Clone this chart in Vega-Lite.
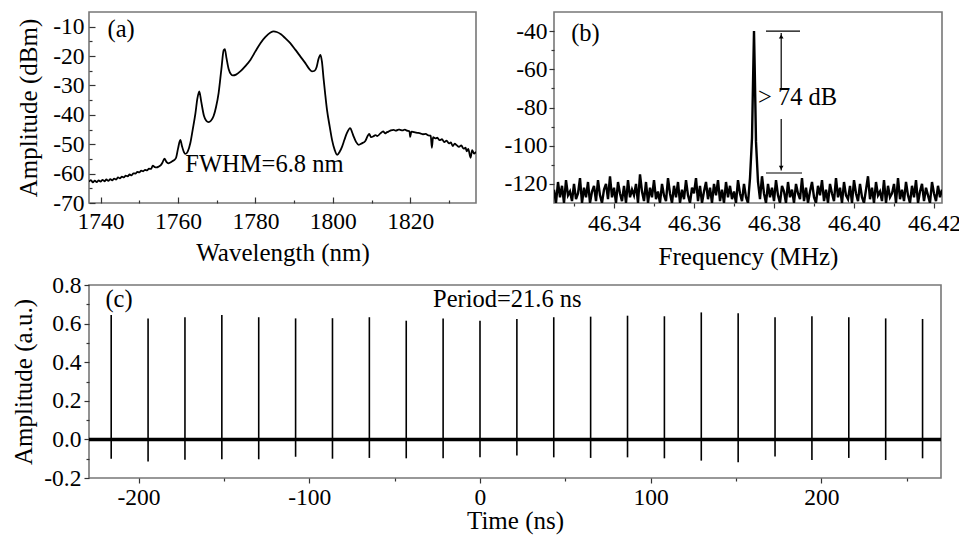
{
"$schema": "https://vega.github.io/schema/vega-lite/v6.json",
"padding": {"left": 10, "top": 11, "right": 5, "bottom": 5},
"spacing": 1,
"vconcat": [
{"hconcat": [
 {"width": 387, "height": 191,
  "resolve": {"axis": {"x": "independent", "y": "independent"}},
  "layer": [
   {"data": {"values": [
{"w":1737.0,"p":-62.8},{"w":1737.5,"p":-62.2},{"w":1738.0,"p":-63.0},{"w":1738.5,"p":-62.4},{"w":1739.0,"p":-62.9},{"w":1739.5,"p":-62.3},{"w":1740.0,"p":-62.7},{"w":1740.5,"p":-62.1},{"w":1741.0,"p":-62.6},{"w":1741.5,"p":-62.0},{"w":1742.0,"p":-62.5},{"w":1742.5,"p":-61.9},{"w":1743.0,"p":-62.3},{"w":1743.5,"p":-61.7},{"w":1744.0,"p":-62.0},{"w":1744.5,"p":-61.3},{"w":1745.0,"p":-61.6},{"w":1745.5,"p":-61.0},{"w":1746.0,"p":-61.3},{"w":1746.5,"p":-60.7},{"w":1747.0,"p":-60.9},{"w":1747.5,"p":-60.3},{"w":1748.0,"p":-60.6},{"w":1748.5,"p":-59.9},{"w":1749.0,"p":-60.0},{"w":1749.5,"p":-59.4},{"w":1750.0,"p":-59.6},{"w":1750.5,"p":-59.0},{"w":1751.0,"p":-59.2},{"w":1751.5,"p":-58.7},{"w":1752.0,"p":-58.9},{"w":1752.5,"p":-58.3},{"w":1753.0,"p":-58.4},{"w":1753.5,"p":-57.3},{"w":1754.0,"p":-57.8},{"w":1754.5,"p":-57.9},{"w":1755.0,"p":-57.6},{"w":1755.5,"p":-57.2},{"w":1756.0,"p":-56.2},{"w":1756.5,"p":-54.9},{"w":1757.0,"p":-56.0},{"w":1757.5,"p":-56.5},{"w":1758.0,"p":-56.2},{"w":1758.5,"p":-55.8},{"w":1759.0,"p":-55.4},{"w":1759.5,"p":-54.6},{"w":1760.0,"p":-51.5},{"w":1760.6,"p":-48.5},{"w":1761.0,"p":-50.5},{"w":1761.5,"p":-52.6},{"w":1761.9,"p":-53.3},{"w":1762.5,"p":-52.5},{"w":1763.2,"p":-49.5},{"w":1763.8,"p":-45.0},{"w":1764.5,"p":-39.5},{"w":1765.0,"p":-34.5},{"w":1765.5,"p":-32.0},{"w":1766.0,"p":-35.5},{"w":1766.7,"p":-40.3},{"w":1767.3,"p":-42.0},{"w":1767.9,"p":-42.5},{"w":1768.5,"p":-42.0},{"w":1769.2,"p":-40.4},{"w":1769.8,"p":-37.5},{"w":1770.5,"p":-32.5},{"w":1771.2,"p":-24.5},{"w":1771.8,"p":-18.0},{"w":1772.1,"p":-17.6},{"w":1772.5,"p":-20.5},{"w":1773.1,"p":-24.5},{"w":1773.7,"p":-26.2},{"w":1774.2,"p":-26.6},{"w":1775.0,"p":-26.3},{"w":1776.1,"p":-25.2},{"w":1777.4,"p":-23.4},{"w":1778.7,"p":-21.3},{"w":1780.0,"p":-18.4},{"w":1781.3,"p":-15.6},{"w":1782.6,"p":-13.5},{"w":1783.9,"p":-12.0},{"w":1784.7,"p":-11.6},{"w":1785.5,"p":-11.8},{"w":1786.6,"p":-12.6},{"w":1787.7,"p":-13.9},{"w":1789.0,"p":-15.6},{"w":1790.3,"p":-17.8},{"w":1791.6,"p":-20.1},{"w":1792.9,"p":-22.4},{"w":1793.8,"p":-24.2},{"w":1794.6,"p":-25.2},{"w":1795.3,"p":-25.0},{"w":1795.8,"p":-23.8},{"w":1796.3,"p":-21.0},{"w":1796.8,"p":-19.6},{"w":1797.2,"p":-22.0},{"w":1797.6,"p":-27.5},{"w":1798.0,"p":-32.5},{"w":1798.5,"p":-38.3},{"w":1799.2,"p":-44.0},{"w":1799.8,"p":-48.5},{"w":1800.5,"p":-52.0},{"w":1801.1,"p":-53.6},{"w":1801.8,"p":-52.5},{"w":1802.4,"p":-50.8},{"w":1803.0,"p":-48.5},{"w":1803.6,"p":-46.3},{"w":1804.5,"p":-44.5},{"w":1805.0,"p":-46.0},{"w":1805.4,"p":-47.4},{"w":1806.0,"p":-49.2},{"w":1806.7,"p":-50.2},{"w":1807.5,"p":-49.7},{"w":1808.4,"p":-48.9},{"w":1809.0,"p":-47.2},{"w":1809.4,"p":-46.5},{"w":1809.9,"p":-47.6},{"w":1810.5,"p":-47.3},{"w":1811.0,"p":-46.9},{"w":1811.5,"p":-47.2},{"w":1812.3,"p":-46.3},{"w":1813.0,"p":-45.6},{"w":1813.5,"p":-46.3},{"w":1814.0,"p":-45.9},{"w":1814.4,"p":-45.7},{"w":1815.0,"p":-45.3},{"w":1815.7,"p":-45.1},{"w":1816.3,"p":-45.4},{"w":1817.0,"p":-45.0},{"w":1817.4,"p":-45.1},{"w":1818.0,"p":-45.3},{"w":1818.6,"p":-45.0},{"w":1819.2,"p":-45.4},{"w":1819.8,"p":-45.6},{"w":1820.0,"p":-47.5},{"w":1820.3,"p":-45.7},{"w":1821.0,"p":-45.9},{"w":1821.8,"p":-46.1},{"w":1822.6,"p":-46.3},{"w":1823.3,"p":-46.6},{"w":1824.0,"p":-46.5},{"w":1824.7,"p":-47.0},{"w":1825.3,"p":-47.1},{"w":1825.6,"p":-51.2},{"w":1825.9,"p":-47.6},{"w":1826.5,"p":-48.0},{"w":1827.0,"p":-47.8},{"w":1827.6,"p":-48.6},{"w":1828.2,"p":-48.3},{"w":1828.8,"p":-49.3},{"w":1829.4,"p":-48.8},{"w":1830.0,"p":-49.7},{"w":1830.5,"p":-49.4},{"w":1831.0,"p":-50.6},{"w":1831.5,"p":-49.8},{"w":1832.0,"p":-50.3},{"w":1832.6,"p":-50.9},{"w":1833.2,"p":-50.4},{"w":1833.8,"p":-51.5},{"w":1834.3,"p":-51.2},{"w":1834.6,"p":-52.4},{"w":1835.0,"p":-51.6},{"w":1835.6,"p":-54.6},{"w":1836.0,"p":-52.0},{"w":1836.5,"p":-53.2},{"w":1837.0,"p":-52.6}
   ]},
    "mark": {"type": "line", "color": "black", "strokeWidth": 1.8, "interpolate": "monotone", "clip": true},
    "encoding": {
     "x": {"field": "w", "type": "quantitative", "scale": {"domain": [1737, 1837], "nice": false, "zero": false},
       "axis": {"title": "Wavelength (nm)", "orient": "bottom", "values": [1740,1760,1780,1800,1820], "format": "d",
         "tickSize": -6, "labelPadding": 12, "titlePadding": 8}},
     "y": {"field": "p", "type": "quantitative", "scale": {"domain": [-70, -5], "nice": false, "zero": false},
       "axis": {"title": "Amplitude (dBm)", "orient": "left", "values": [-70,-60,-50,-40,-30,-20,-10],
         "labelExpr": "'' + datum.value",
         "tickSize": -6, "labelPadding": 11, "titlePadding": 11}}
    }},
   {"data": {"values": [{"x": 1741.8, "y": -11, "label": "(a)"}, {"x": 1761.9, "y": -57.2, "label": "FWHM=6.8 nm"}]},
    "mark": {"type": "text", "align": "left", "baseline": "middle"},
    "encoding": {
      "x": {"field": "x", "type": "quantitative", "axis": {"orient": "bottom", "values": [1750,1770,1790,1810,1830], "labels": false, "title": null, "tickSize": -3}},
      "y": {"field": "y", "type": "quantitative", "axis": {"orient": "left", "values": [-65,-55,-45,-35,-25,-15], "labels": false, "title": null, "tickSize": -3}},
      "text": {"field": "label"}}}
  ]},
 {"width": 388, "height": 191,
  "resolve": {"axis": {"x": "independent", "y": "independent"}},
  "layer": [
   {"data": {"values": [
{"f":46.3250,"p":-123},{"f":46.3255,"p":-130},{"f":46.3260,"p":-119},{"f":46.3265,"p":-127},{"f":46.3270,"p":-121},{"f":46.3275,"p":-130},{"f":46.3280,"p":-118},{"f":46.3285,"p":-126},{"f":46.3290,"p":-124},{"f":46.3295,"p":-129},
{"f":46.3300,"p":-120},{"f":46.3305,"p":-128},{"f":46.3310,"p":-125},{"f":46.3315,"p":-117},{"f":46.3320,"p":-130},{"f":46.3325,"p":-122},{"f":46.3330,"p":-127},{"f":46.3335,"p":-119},{"f":46.3340,"p":-130},{"f":46.3345,"p":-124},
{"f":46.3350,"p":-121},{"f":46.3355,"p":-129},{"f":46.3360,"p":-118},{"f":46.3365,"p":-126},{"f":46.3370,"p":-130},{"f":46.3375,"p":-123},{"f":46.3380,"p":-120},{"f":46.3385,"p":-128},{"f":46.3390,"p":-116},{"f":46.3395,"p":-127},
{"f":46.3400,"p":-122},{"f":46.3405,"p":-130},{"f":46.3410,"p":-119},{"f":46.3415,"p":-125},{"f":46.3420,"p":-129},{"f":46.3425,"p":-121},{"f":46.3430,"p":-130},{"f":46.3435,"p":-118},{"f":46.3440,"p":-127},{"f":46.3445,"p":-123},
{"f":46.3450,"p":-126},{"f":46.3455,"p":-120},{"f":46.3460,"p":-130},{"f":46.3465,"p":-115},{"f":46.3470,"p":-124},{"f":46.3475,"p":-129},{"f":46.3480,"p":-119},{"f":46.3485,"p":-130},{"f":46.3490,"p":-122},{"f":46.3495,"p":-127},
{"f":46.3500,"p":-118},{"f":46.3505,"p":-128},{"f":46.3510,"p":-124},{"f":46.3515,"p":-130},{"f":46.3520,"p":-120},{"f":46.3525,"p":-126},{"f":46.3530,"p":-129},{"f":46.3535,"p":-117},{"f":46.3540,"p":-125},{"f":46.3545,"p":-130},
{"f":46.3550,"p":-121},{"f":46.3555,"p":-127},{"f":46.3560,"p":-119},{"f":46.3565,"p":-130},{"f":46.3570,"p":-123},{"f":46.3575,"p":-128},{"f":46.3580,"p":-118},{"f":46.3585,"p":-126},{"f":46.3590,"p":-130},{"f":46.3595,"p":-122},
{"f":46.3600,"p":-125},{"f":46.3605,"p":-117},{"f":46.3610,"p":-129},{"f":46.3615,"p":-121},{"f":46.3620,"p":-130},{"f":46.3625,"p":-124},{"f":46.3630,"p":-119},{"f":46.3635,"p":-128},{"f":46.3640,"p":-122},{"f":46.3645,"p":-130},
{"f":46.3650,"p":-120},{"f":46.3655,"p":-126},{"f":46.3660,"p":-118},{"f":46.3665,"p":-129},{"f":46.3670,"p":-123},{"f":46.3675,"p":-130},{"f":46.3680,"p":-119},{"f":46.3685,"p":-127},{"f":46.3690,"p":-121},{"f":46.3695,"p":-128},
{"f":46.3700,"p":-124},{"f":46.3705,"p":-130},{"f":46.3710,"p":-118},{"f":46.3715,"p":-125},{"f":46.3720,"p":-129},{"f":46.3725,"p":-120},{"f":46.3730,"p":-127},{"f":46.3735,"p":-130},{"f":46.3740,"p":-117},{"f":46.3745,"p":-96},{"f":46.3748,"p":-62},{"f":46.3750,"p":-40},{"f":46.3752,"p":-62},{"f":46.3755,"p":-98},{"f":46.3760,"p":-119},
{"f":46.3765,"p":-128},{"f":46.3770,"p":-116},{"f":46.3775,"p":-125},{"f":46.3780,"p":-130},{"f":46.3785,"p":-120},{"f":46.3790,"p":-127},{"f":46.3795,"p":-122},
{"f":46.3800,"p":-129},{"f":46.3805,"p":-118},{"f":46.3810,"p":-126},{"f":46.3815,"p":-130},{"f":46.3820,"p":-121},{"f":46.3825,"p":-124},{"f":46.3830,"p":-130},{"f":46.3835,"p":-119},{"f":46.3840,"p":-127},{"f":46.3845,"p":-123},
{"f":46.3850,"p":-130},{"f":46.3855,"p":-120},{"f":46.3860,"p":-125},{"f":46.3865,"p":-128},{"f":46.3870,"p":-117},{"f":46.3875,"p":-129},{"f":46.3880,"p":-122},{"f":46.3885,"p":-130},{"f":46.3890,"p":-124},{"f":46.3895,"p":-119},
{"f":46.3900,"p":-127},{"f":46.3905,"p":-130},{"f":46.3910,"p":-121},{"f":46.3915,"p":-126},{"f":46.3920,"p":-118},{"f":46.3925,"p":-129},{"f":46.3930,"p":-123},{"f":46.3935,"p":-130},{"f":46.3940,"p":-120},{"f":46.3945,"p":-125},
{"f":46.3950,"p":-129},{"f":46.3955,"p":-117},{"f":46.3960,"p":-127},{"f":46.3965,"p":-122},{"f":46.3970,"p":-130},{"f":46.3975,"p":-119},{"f":46.3980,"p":-126},{"f":46.3985,"p":-128},{"f":46.3990,"p":-121},{"f":46.3995,"p":-130},
{"f":46.4000,"p":-118},{"f":46.4005,"p":-125},{"f":46.4010,"p":-129},{"f":46.4015,"p":-120},{"f":46.4020,"p":-127},{"f":46.4025,"p":-130},{"f":46.4030,"p":-123},{"f":46.4035,"p":-116},{"f":46.4040,"p":-128},{"f":46.4045,"p":-122},
{"f":46.4050,"p":-130},{"f":46.4055,"p":-119},{"f":46.4060,"p":-126},{"f":46.4065,"p":-124},{"f":46.4070,"p":-129},{"f":46.4075,"p":-118},{"f":46.4080,"p":-130},{"f":46.4085,"p":-121},{"f":46.4090,"p":-127},{"f":46.4095,"p":-125},
{"f":46.4100,"p":-120},{"f":46.4105,"p":-130},{"f":46.4110,"p":-117},{"f":46.4115,"p":-128},{"f":46.4120,"p":-123},{"f":46.4125,"p":-129},{"f":46.4130,"p":-119},{"f":46.4135,"p":-126},{"f":46.4140,"p":-130},{"f":46.4145,"p":-121},
{"f":46.4150,"p":-127},{"f":46.4155,"p":-118},{"f":46.4160,"p":-130},{"f":46.4165,"p":-124},{"f":46.4170,"p":-120},{"f":46.4175,"p":-129},{"f":46.4180,"p":-122},{"f":46.4185,"p":-126},{"f":46.4190,"p":-130},{"f":46.4195,"p":-119},
{"f":46.4200,"p":-125},{"f":46.4205,"p":-129},{"f":46.4210,"p":-121},{"f":46.4215,"p":-127},{"f":46.4220,"p":-123}
   ]},
    "mark": {"type": "line", "color": "black", "strokeWidth": 2.4, "clip": true},
    "encoding": {
     "x": {"field": "f", "type": "quantitative", "scale": {"domain": [46.325, 46.422], "nice": false, "zero": false},
       "axis": {"title": "Frequency (MHz)", "orient": "bottom", "values": [46.34,46.36,46.38,46.40,46.42], "format": ".2f",
         "tickSize": 5, "labelPadding": 3, "titlePadding": 10}},
     "y": {"field": "p", "type": "quantitative", "scale": {"domain": [-130, -30], "nice": false, "zero": false},
       "axis": {"title": null, "orient": "left", "values": [-120,-100,-80,-60,-40],
         "labelExpr": "'' + datum.value",
         "tickSize": 5, "labelPadding": 2}}
    }},
   {"data": {"values": [
      {"x": 46.3818, "x2": 46.3818, "y": -41, "y2": -71},
      {"x": 46.3818, "x2": 46.3818, "y": -86, "y2": -113},
      {"x": 46.378, "x2": 46.3865, "y": -40, "y2": -40},
      {"x": 46.378, "x2": 46.387, "y": -114.3, "y2": -114.3}]},
    "mark": {"type": "rule", "color": "black", "strokeWidth": 1.2},
    "encoding": {
      "x": {"field": "x", "type": "quantitative", "axis": {"orient": "bottom", "values": [46.33,46.35,46.37,46.39,46.41], "labels": false, "title": null, "tickSize": 3}},
      "x2": {"field": "x2"},
      "y": {"field": "y", "type": "quantitative", "axis": {"orient": "left", "values": [-110,-90,-70,-50], "labels": false, "title": null, "tickSize": 3}},
      "y2": {"field": "y2"}}},
   {"data": {"values": [{"x": 46.3818, "y": -42.8, "dir": "up"}, {"x": 46.3818, "y": -111.5, "dir": "down"}]},
    "mark": {"type": "point", "filled": true, "color": "black", "size": 22, "opacity": 1},
    "encoding": {"x": {"field": "x", "type": "quantitative", "axis": null}, "y": {"field": "y", "type": "quantitative", "axis": null},
      "shape": {"field": "dir", "type": "nominal", "scale": {"domain": ["up", "down"], "range": ["triangle-up", "triangle-down"]}, "legend": null}}},
   {"data": {"values": [{"x": 46.3293, "y": -41.6, "label": "(b)"}, {"x": 46.376, "y": -75, "label": "> 74 dB"}]},
    "mark": {"type": "text", "align": "left", "baseline": "middle"},
    "encoding": {"x": {"field": "x", "type": "quantitative", "axis": null}, "y": {"field": "y", "type": "quantitative", "axis": null}, "text": {"field": "label"}}}
  ]}
 ], "spacing": 78, "bounds": "flush"},
{"width": 852, "height": 193,
 "resolve": {"axis": {"x": "independent", "y": "independent"}},
 "layer": [
  {"data": {"values": [{}]},
   "mark": {"type": "rule", "color": "black", "strokeWidth": 3.5},
   "encoding": {"y": {"datum": 0, "type": "quantitative", "axis": null}}},
  {"data": {"values": [
{"t":-216.0,"top":0.645,"bot":-0.100},{"t":-194.4,"top":0.627,"bot":-0.115},{"t":-172.8,"top":0.633,"bot":-0.105},{"t":-151.2,"top":0.645,"bot":-0.103},{"t":-129.6,"top":0.633,"bot":-0.103},{"t":-108.0,"top":0.627,"bot":-0.090},{"t":-86.4,"top":0.628,"bot":-0.100},{"t":-64.8,"top":0.633,"bot":-0.096},{"t":-43.2,"top":0.615,"bot":-0.098},{"t":-21.6,"top":0.627,"bot":-0.098},{"t":0.0,"top":0.615,"bot":-0.092},{"t":21.6,"top":0.624,"bot":-0.084},{"t":43.2,"top":0.633,"bot":-0.093},{"t":64.8,"top":0.636,"bot":-0.096},{"t":86.4,"top":0.641,"bot":-0.093},{"t":108.0,"top":0.638,"bot":-0.098},{"t":129.6,"top":0.658,"bot":-0.110},{"t":151.2,"top":0.653,"bot":-0.119},{"t":172.8,"top":0.633,"bot":-0.088},{"t":194.4,"top":0.638,"bot":-0.107},{"t":216.0,"top":0.633,"bot":-0.096},{"t":237.6,"top":0.627,"bot":-0.107},{"t":259.2,"top":0.624,"bot":-0.098}
  ]},
   "mark": {"type": "rule", "color": "black", "strokeWidth": 1.6},
   "encoding": {
    "x": {"field": "t", "type": "quantitative", "scale": {"domain": [-229, 270], "nice": false, "zero": false},
      "axis": {"title": "Time (ns)", "orient": "bottom", "values": [-200,-100,0,100,200],
        "labelExpr": "'' + datum.value",
        "tickSize": 5, "labelPadding": 2, "titlePadding": 0}},
    "y": {"field": "top", "type": "quantitative", "scale": {"domain": [-0.2, 0.8], "nice": false, "zero": false},
      "axis": {"title": "Amplitude (a.u.)", "orient": "left", "values": [-0.2,0,0.2,0.4,0.6,0.8],
        "labelExpr": "replace(format(datum.value, '.1f'), '−', '-')",
        "tickSize": 5, "labelPadding": 3, "titlePadding": 7}},
    "y2": {"field": "bot"}
   }},
  {"data": {"values": [{"x": -219.4, "y": 0.724, "label": "(c)"}, {"x": -27.5, "y": 0.72, "label": "Period=21.6 ns"}]},
   "mark": {"type": "text", "align": "left", "baseline": "middle"},
   "encoding": {
     "x": {"field": "x", "type": "quantitative", "axis": {"orient": "bottom", "values": [-150,-50,50,150,250], "labels": false, "title": null, "tickSize": 3}},
     "y": {"field": "y", "type": "quantitative", "axis": {"orient": "left", "values": [-0.1,0.1,0.3,0.5,0.7], "labels": false, "title": null, "tickSize": 3}},
     "text": {"field": "label"}}}
 ]}
],
"config": {
 "font": "Liberation Serif",
 "view": {"stroke": "#777777", "strokeWidth": 1.6},
 "axis": {"labelFont": "Liberation Serif", "titleFont": "Liberation Serif", "labelFontSize": 23.5, "titleFontSize": 25, "labelColor": "black", "titleColor": "black", "titleFontWeight": "normal", "grid": false, "domain": false, "tickColor": "#333333", "tickWidth": 1.2, "labelFlush": false, "labelOverlap": false, "labelBound": false},
 "text": {"font": "Liberation Serif", "fontSize": 24.5, "color": "black"}
}
}
